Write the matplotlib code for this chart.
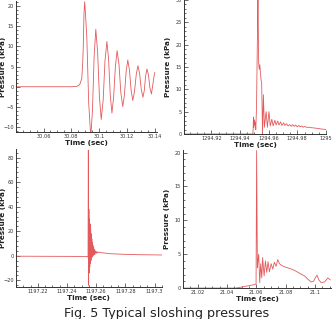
import matplotlib
matplotlib.use("Agg")
import matplotlib.pyplot as plt
from matplotlib.ticker import AutoMinorLocator, FuncFormatter, MultipleLocator

# panel (a): oscillating pressure
t1 = [30.0402, 30.080, 30.084, 30.086, 30.0875, 30.0882, 30.0886, 30.0891,
      30.0896, 30.0901, 30.0911, 30.0925, 30.0940, 30.0952, 30.0964, 30.0976,
      30.0989, 30.1002, 30.1015, 30.1029, 30.1042, 30.1056, 30.1068, 30.1080,
      30.1092, 30.1104, 30.1117, 30.1129, 30.1143, 30.1156, 30.1170, 30.1182,
      30.1194, 30.1206, 30.1218, 30.1230, 30.1242, 30.1254, 30.1267, 30.1279,
      30.1291, 30.1303, 30.1315, 30.1325, 30.1334, 30.1344, 30.1355, 30.1365,
      30.1376, 30.1384, 30.1392, 30.1400]
p1 = [0, 0, 0.1, 0.5, 2, 6, 10, 18,
      21, 18.5, 12.6, -4.1, -12.5, -5.8, 7.5, 14.2,
      8.6, -2.5, -8.1, -3.3, 6.4, 11.2, 6.8, -2.1,
      -6.5, -2.65, 5.05, 8.9, 5.45, -1.45, -4.9, -2.0,
      3.7, 6.6, 4.1, -0.9, -3.4, -1.25, 3.05, 5.2,
      3.25, -0.65, -2.6, -0.85, 2.65, 4.4, 2.85, -0.25,
      -1.8, 0, 2.0, 3.5]

# panel (b)
t2 = [1294.901, 1294.9485, 1294.9490, 1294.9494, 1294.9496, 1294.9498,
      1294.9500, 1294.9502, 1294.9504, 1294.9507, 1294.9510, 1294.9515,
      1294.9525, 1294.9530, 1294.9534, 1294.9538, 1294.9543, 1294.9547,
      1294.9551, 1294.9557, 1294.9563, 1294.9570, 1294.9582, 1294.9591,
      1294.9602, 1294.9611, 1294.9622, 1294.9631, 1294.9643, 1294.9652,
      1294.9663, 1294.9672, 1294.9683, 1294.9692, 1294.9704, 1294.9713,
      1294.9724, 1294.9735, 1294.9747, 1294.9757, 1294.9768, 1294.9778,
      1294.9789, 1294.9799, 1294.9810, 1294.9820, 1294.9831, 1294.9841,
      1294.9852, 1294.9862, 1294.9880, 1294.9900, 1294.9930, 1294.9960,
      1295.0000]
p2 = [0, 0, 0, 3.8, 1.5, 3.2,
      2.0, 3.0, 2.2, 2.6, 1.0, 6.0,
      31, 16, 14.5, 15.5, 13.5, 12,
      11.5, 0, 8.8, 1.5, 5.0, 1.5,
      5.0, 1.8, 3.3, 1.8, 3.1, 2.0,
      2.9, 2.0, 2.7, 1.9, 2.5, 1.9,
      2.3, 1.8, 2.1, 1.7, 2.1, 1.7,
      2.0, 1.6, 1.9, 1.6, 1.8, 1.5,
      1.7, 1.5, 1.5, 1.4, 1.3, 1.15,
      1.0]

# panel (c): impact spike
t3 = [1197.205, 1197.230, 1197.2535, 1197.2544, 1197.2546, 1197.2548,
      1197.2550, 1197.2552, 1197.2554, 1197.2556, 1197.2558, 1197.2560,
      1197.2562, 1197.2564, 1197.2566, 1197.2568, 1197.2570, 1197.2572,
      1197.2574, 1197.2576, 1197.2578, 1197.2580, 1197.2583, 1197.2586,
      1197.2589, 1197.2592, 1197.2596, 1197.2600, 1197.2605, 1197.2610,
      1197.2620, 1197.2640, 1197.2670, 1197.2700, 1197.2800, 1197.2900,
      1197.3050]
p3 = [-0.3, -0.4, -0.5, -1, 86, -24,
      38, -14, 30, -9, 26, -6,
      22, -4, 18, -2, 14, -1,
      11, 0, 8.5, 0.5, 6.5, 1,
      5, 1.5, 4, 2, 3.5, 2.5,
      3, 2.5, 2.1, 1.7, 1.2, 0.9,
      0.7]

# panel (d)
t4 = [21.010, 21.0461, 21.0586, 21.0598, 21.0602, 21.0607, 21.0611, 21.0616,
      21.0623, 21.0630, 21.0637, 21.0643, 21.0653, 21.0662, 21.0671, 21.0680,
      21.0689, 21.0701, 21.0712, 21.0723, 21.0735, 21.0746, 21.0758, 21.0769,
      21.0785, 21.0799, 21.0812, 21.0826, 21.0840, 21.0861, 21.0878, 21.0895,
      21.0910, 21.0929, 21.0952, 21.0975, 21.0991, 21.1005, 21.1014, 21.1027,
      21.1043, 21.1066, 21.1089, 21.1105]
p4 = [0, 0, 0.5, 0.6, 20.3, 3.0, 4.0, 5.0,
      0.8, 3.6, 1.5, 4.5, 1.8, 4.0, 2.3, 3.9,
      2.4, 3.6, 2.8, 3.8, 3.2, 4.2, 3.6, 3.4,
      3.2, 3.1, 3.0, 2.9, 2.8, 2.6, 2.4, 2.2,
      2.0, 1.8, 1.3, 0.9, 1.0, 1.6, 1.9, 1.2,
      0.8, 0.9, 1.5, 1.2]

LINE = "#e35a5c"


def fmt(v, pos):
    return "%g" % round(v, 4)


def style(ax, xlim, ylim, xstep, ystep, ylab_x):
    ax.set_xlim(*xlim)
    ax.set_ylim(*ylim)
    for s in ["top", "right"]:
        ax.spines[s].set_visible(False)
    for s in ["left", "bottom"]:
        ax.spines[s].set_linewidth(0.7)
        ax.spines[s].set_color("#333333")
    ax.xaxis.set_major_locator(MultipleLocator(xstep))
    ax.yaxis.set_major_locator(MultipleLocator(ystep))
    ax.xaxis.set_minor_locator(AutoMinorLocator(4))
    ax.yaxis.set_minor_locator(AutoMinorLocator(5))
    ax.xaxis.set_major_formatter(FuncFormatter(fmt))
    ax.tick_params(which="both", direction="in", labelsize=3.6,
                   colors="#333333", pad=1.5, width=0.5)
    ax.tick_params(which="major", length=3)
    ax.tick_params(which="minor", length=1.5)
    ax.set_xlabel("Time (sec)", fontsize=5.2, fontweight="bold",
                  labelpad=0.5, color="#222222")
    ax.set_ylabel("Pressure (kPa)", fontsize=5.2, fontweight="bold",
                  color="#222222")
    ax.yaxis.set_label_coords(ylab_x, 0.5)


fig = plt.figure(figsize=(3.33, 3.19), dpi=100)

ax1 = fig.add_axes([0.048, 0.586, 0.423, 0.411])
ax1.plot(t1, p1, color=LINE, lw=0.6)
style(ax1, (30.0402, 30.1415), (-11.2, 21.2), 0.02, 5, -0.07)

ax2 = fig.add_axes([0.553, 0.580, 0.426, 0.420])
ax2.plot(t2, p2, color=LINE, lw=0.6)
style(ax2, (1294.901, 1295.0), (0, 30), 0.02, 5, -0.09)

ax3 = fig.add_axes([0.048, 0.101, 0.438, 0.432])
ax3.plot(t3, p3, color=LINE, lw=0.6)
style(ax3, (1197.205, 1197.305), (-25.2, 87), 0.02, 20, -0.068)

ax4 = fig.add_axes([0.550, 0.097, 0.444, 0.433])
ax4.plot(t4, p4, color=LINE, lw=0.6)
style(ax4, (21.010, 21.111), (0, 20.4), 0.02, 5, -0.09)

fig.text(0.5, 0.038, "Fig. 5 Typical sloshing pressures", ha="center",
         va="top", fontsize=9.2, color="#222222")

fig.savefig("out.png", dpi=100)
